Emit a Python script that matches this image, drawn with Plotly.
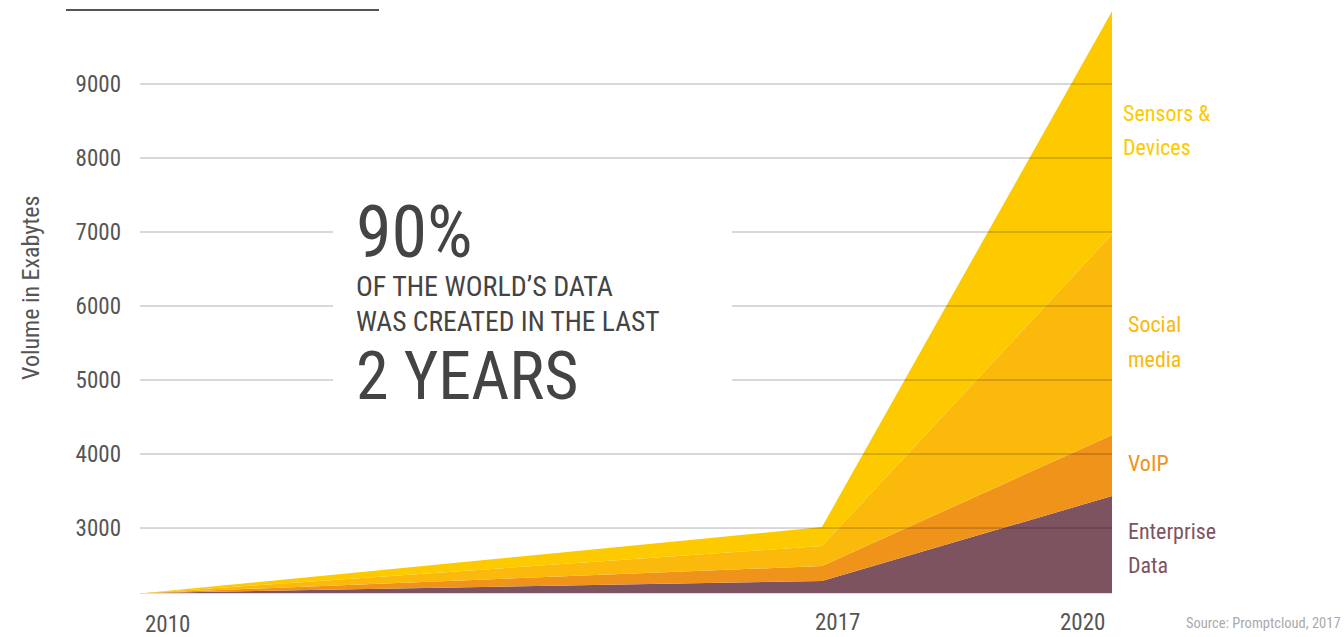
import plotly.graph_objects as go

years = [2010, 2017, 2020]
enterprise = [2122, 2284, 3432]
voip = [0, 202, 825]
social = [0, 271, 2713]
sensors = [0, 256, 3013]
series_names = ["Enterprise Data", "VoIP", "Social media", "Sensors & Devices"]
series_values = [enterprise, voip, social, sensors]
colors = ["#7E5360", "#EF931A", "#FBB90B", "#FDCA00"]
tick_vals = [3000, 4000, 5000, 6000, 7000, 8000, 9000]
x_labels = ["2010", "2017", "2020"]

FONT = "Roboto Condensed, DejaVu Sans Condensed, sans-serif"
X0, X1 = 2009.948, 2020
Y0, Y1 = 2122, 10135

# pixel -> paper helpers (plot area: x 140..1112, y 0..593)
def px(x):
    return (x - 140) / 972.0

def py(y):
    return (593 - y) / 593.0

fig = go.Figure()
for name, vals, col in zip(series_names, series_values, colors):
    fig.add_trace(go.Scatter(x=years, y=vals, name=name, stackgroup="one",
                             mode="lines", line=dict(width=0, color=col),
                             fillcolor=col, hoverinfo="skip"))

# gridlines drawn above the areas
for v in tick_vals:
    fig.add_trace(go.Scatter(x=[X0, X1], y=[v, v], mode="lines",
                             line=dict(color="rgba(0,0,0,0.3)", width=1),
                             hoverinfo="skip", showlegend=False))

shapes = [
    dict(type="rect", xref="paper", yref="paper", x0=px(333), x1=px(732),
         y0=py(420), y1=py(195), fillcolor="white", line=dict(width=0), layer="above"),
    dict(type="line", xref="paper", yref="paper", x0=px(66), x1=px(379),
         y0=py(10), y1=py(10), line=dict(color="#555555", width=2)),
]

ann = []
ann.append(dict(text="Volume in Exabytes", xref="paper", yref="paper", x=px(31), y=py(288),
                xanchor="center", yanchor="middle", textangle=-90, showarrow=False,
                font=dict(family=FONT, size=24, color="#555555")))
x_anchor = ["left", "left", "right"]
x_shift = [-2, -9, -5]
x_ypix = [624, 622, 622]
for yr, lab, xa, xs, yp in zip(years, x_labels, x_anchor, x_shift, x_ypix):
    ann.append(dict(text=lab, x=yr, xref="x", yref="paper", y=py(yp), xanchor=xa, xshift=xs,
                    yanchor="middle", showarrow=False,
                    font=dict(family=FONT, size=23, color="#555555")))
head = [("90%", 72, 232), ("OF THE WORLD\u2019S DATA", 28, 286), ("WAS CREATED IN THE LAST", 27.5, 321),
        ("2 YEARS", 66, 376)]
for t, s, yp in head:
    ann.append(dict(text=t, xref="paper", yref="paper", x=px(354), y=py(yp), xanchor="left",
                    yanchor="middle", showarrow=False, font=dict(family=FONT, size=s, color="#444444")))
right = [("Sensors &", 1121, 113, colors[3]), ("Devices", 1121, 147, colors[3]),
         ("Social", 1126, 325, colors[2]), ("media", 1126, 359, colors[2]),
         ("VoIP", 1126, 463, colors[1]),
         ("Enterprise", 1126, 531, colors[0]), ("Data", 1126, 565, colors[0])]
for t, xp, yp, c in right:
    ann.append(dict(text=t, xref="paper", yref="paper", x=px(xp), y=py(yp), xanchor="left",
                    yanchor="middle", showarrow=False, font=dict(family=FONT, size=22, color=c)))
ann.append(dict(text="Source: Promptcloud, 2017", xref="paper", yref="paper", x=px(1343), y=py(623),
                xanchor="right", yanchor="middle", showarrow=False,
                font=dict(family=FONT, size=14.5, color="#AAAAAA")))

fig.update_layout(
    width=1344, height=637, margin=dict(l=140, r=232, t=0, b=44),
    paper_bgcolor="white", plot_bgcolor="white", showlegend=False,
    xaxis=dict(range=[X0, X1], showgrid=False, zeroline=False, showticklabels=False,
               showline=True, linecolor="#DDDDDD", linewidth=1, fixedrange=True),
    yaxis=dict(range=[Y0, Y1], tickvals=tick_vals, showgrid=False, zeroline=False,
               showline=False, ticks="", ticklabelstandoff=18,
               tickfont=dict(family=FONT, size=23, color="#555555"), fixedrange=True),
    shapes=shapes, annotations=ann,
)
fig.write_html("out.html", config={"displayModeBar": False},
               post_script="document.body.style.margin='0';document.body.style.overflow='hidden';")
